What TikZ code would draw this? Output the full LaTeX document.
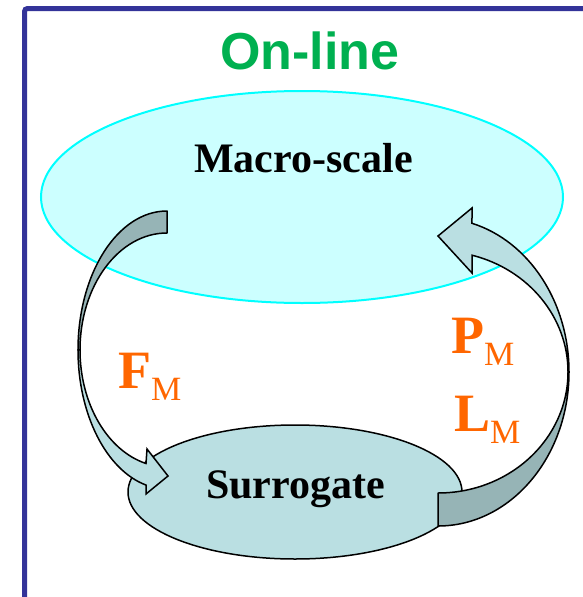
\documentclass[tikz,border=0pt]{standalone}
\usepackage{fontspec}
\setmainfont{Liberation Serif}
\newfontfamily\headfont{Liberation Sans}
\usepackage{tikz}
\usetikzlibrary{positioning}
\definecolor{framecol}{HTML}{333399}
\definecolor{macrofill}{HTML}{CCFFFF}
\definecolor{macroline}{HTML}{00FFFF}
\definecolor{surrfill}{HTML}{BADFE2}
\definecolor{backfill}{HTML}{96B4B6}
\definecolor{onlinegreen}{HTML}{00B050}
\definecolor{quantorange}{HTML}{FF6600}
\tikzset{backface/.style={draw=black, line width=1.5pt, fill=backfill, line join=round},
  frontface/.style={draw=black, line width=1.5pt, fill=surrfill, line join=miter},
  scaletext/.style={inner sep=0pt, anchor=base, font=\fontsize{42}{42}\selectfont\bfseries},
  quanttext/.style={inner sep=0pt, anchor=base west, text=quantorange}}
\newcommand{\qsym}[1]{{\fontsize{54}{54}\selectfont\bfseries #1}\raisebox{-12.5pt}{\fontsize{34}{34}\selectfont M}}

\begin{document}
\begin{tikzpicture}[x=1pt, y=-1pt]
\useasboundingbox (0,0) rectangle (583,597);
\clip (0,0) rectangle (583,597);
\draw[framecol, line width=5pt, rounded corners=3pt] (24.5,8.5) rectangle (640,660);
\node[inner sep=0pt, anchor=base, text=onlinegreen, font=\headfont\fontsize{52}{52}\selectfont\bfseries] (online) at (310,69) {On-line};
\draw[macroline, line width=2pt, fill=macrofill] (302,197) ellipse[x radius=261, y radius=106];
\draw[black, line width=1.5pt, fill=surrfill] (295,492) ellipse[x radius=167, y radius=67];
% left band, down to the surrogate
\coordinate (lc) at (167,350);
\draw[backface] (167,211) arc[start angle=-90, end angle=-180, x radius=89, y radius=139] -- (80,350) arc[start angle=180, end angle=270, x radius=87, y radius=117] -- cycle;
\draw[frontface] (78,350) arc[start angle=180, end angle=103.65, x radius=89, y radius=139] -- (146,494) -- (168,476) -- (147,449) -- (146,463.5) arc[start angle=103.97, end angle=180, x radius=87, y radius=117] -- cycle;
% right band, back up to the macro-scale
\coordinate (rc) at (438,372);
\draw[backface] (438,526) arc[start angle=90, end angle=0, x radius=131, y radius=154] -- (568,372) arc[start angle=0, end angle=90, x radius=130, y radius=121] -- cycle;
\draw[frontface] (569,372) arc[start angle=0, end angle=-74.96, x radius=131, y radius=154] -- (472,208) -- (438,236) -- (472,273) -- (472,255.2) arc[start angle=-74.84, end angle=0, x radius=130, y radius=121] -- cycle;
\node[scaletext] (macro) at (303.5,172) {Macro-scale};
\node[scaletext] (surr) at (295.5,498) {Surrogate};
\node[quanttext] (fm) at (118,388) {\qsym{F}};
\node[quanttext] (pm) at (451,353) {\qsym{P}};
\node[quanttext] (lm) at (454,431) {\qsym{L}};
\end{tikzpicture}
\end{document}
